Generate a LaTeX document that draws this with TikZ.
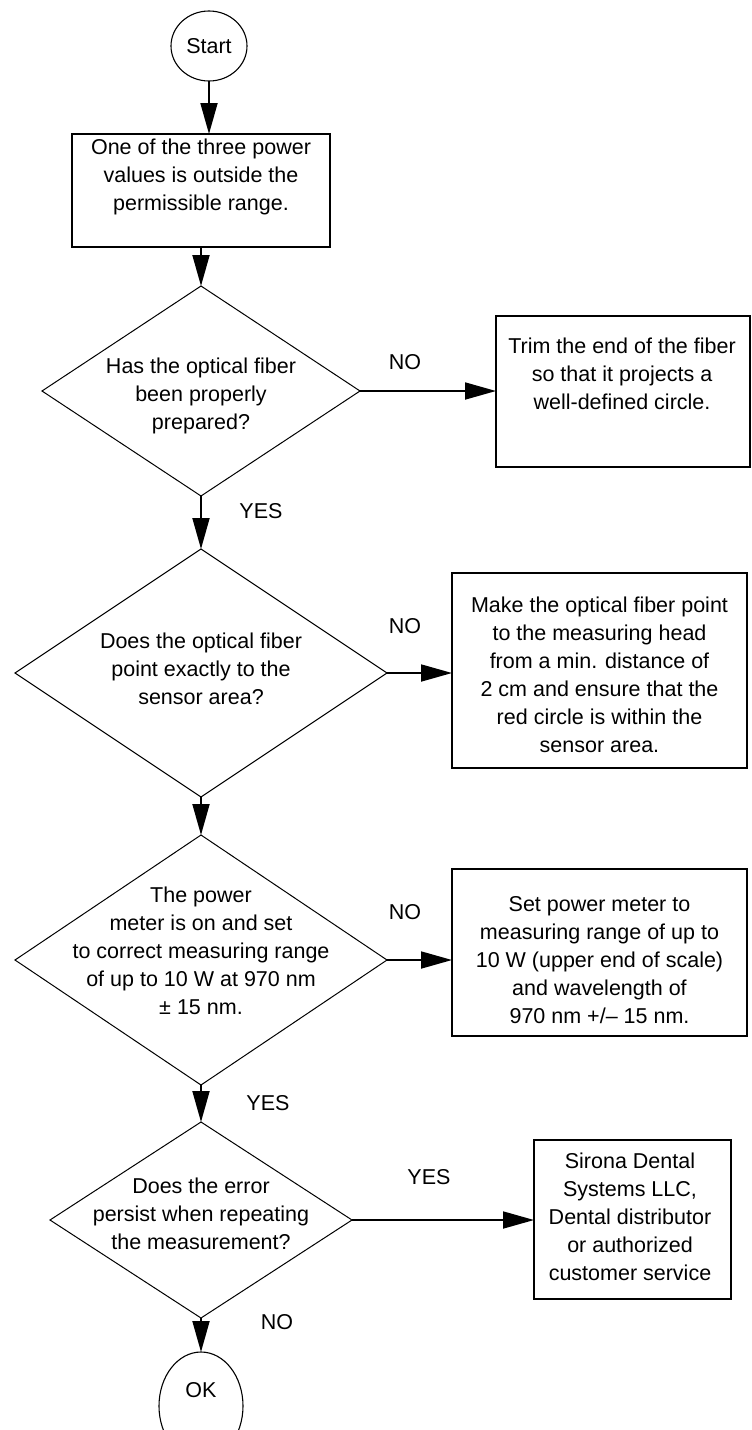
\documentclass[tikz,border=0pt]{standalone}
\usepackage{fontspec}
\setmainfont{Liberation Sans}
\usetikzlibrary{shapes.geometric,arrows.meta}
\begin{document}
\begin{tikzpicture}[x=1pt,y=-1pt,
  every node/.style={font=\fontsize{21.5}{28}\selectfont, inner sep=0pt, outer sep=0pt},
  boxnode/.style={draw, rectangle, line width=2pt},
  decision/.style={draw, diamond, line width=1pt},
  terminal/.style={draw, ellipse, line width=1.1pt},
  txt/.style={align=center},
  lbl/.style={},
  arr/.style={line width=1.8pt, -{Triangle[length=31pt,width=17pt]}}
]
\useasboundingbox (0,0) rectangle (752,1430);

% shapes
\node[terminal, minimum width=76pt, minimum height=70pt] (start) at (209,46) {Start};
\node[boxnode, minimum width=258pt, minimum height=113pt] (b1) at (201,190.5) {};
\node[txt] (b1t) at (201,177) {\strut One of the three power\\values is outside the\\permissible range.\strut};

\node[decision, minimum width=318pt, minimum height=210pt] (d1) at (201,391) {};
\node[txt] (d1t) at (201,396) {\strut Has the optical fiber\\been properly\\prepared?\strut};

\node[boxnode, minimum width=254pt, minimum height=151pt] (trim) at (623,391.5) {};
\node[txt] (trimt) at (622,376) {\strut Trim the end of the fiber\\so that it projects a\\well-defined circle.\strut};

\node[decision, minimum width=372pt, minimum height=248pt] (d2) at (201,673) {};
\node[txt] (d2t) at (201,671) {\strut Does the optical fiber\\point exactly to the\\sensor area?\strut};

\node[boxnode, minimum width=295pt, minimum height=195pt] (b2) at (599.5,670.5) {};
\node[txt] (b2t) at (599.5,676.5) {\strut Make the optical fiber point\\to the measuring head\\from a min. distance of\\2 cm and ensure that the\\red circle is within the\\sensor area.\strut};

\node[decision, minimum width=372pt, minimum height=250pt] (d3) at (201,960) {};
\node[txt] (d3t) at (201,953) {\strut The power\\meter is on and set\\to correct measuring range\\of up to 10 W at 970 nm\\± 15 nm.\strut};

\node[boxnode, minimum width=295pt, minimum height=167pt] (b3) at (599.5,952.5) {};
\node[txt] (b3t) at (599.5,962) {\strut Set power meter to\\measuring range of up to\\10 W (upper end of scale)\\and wavelength of\\970 nm +/– 15 nm.\strut};

\node[decision, minimum width=302pt, minimum height=196pt] (d4) at (201,1220) {};
\node[txt] (d4t) at (201,1215.5) {\strut Does the error\\persist when repeating\\the measurement?\strut};

\node[boxnode, minimum width=197pt, minimum height=159pt] (b4) at (632.5,1219.5) {};
\node[txt] (b4t) at (630,1218.5) {\strut Sirona Dental\\Systems LLC,\\Dental distributor\\or authorized\\customer service\strut};

\node[terminal, minimum width=84pt, minimum height=108pt] (ok) at (201,1406) {};
\node (okt) at (201,1390) {OK};

% labels
\node[lbl] (no1) at (405,362) {NO};
\node[lbl] (yes1) at (261,511) {YES};
\node[lbl] (no2) at (405,626) {NO};
\node[lbl] (no3) at (405,912) {NO};
\node[lbl] (yes3) at (268,1103) {YES};
\node[lbl] (yes4) at (429,1177) {YES};
\node[lbl] (no4) at (277,1322) {NO};

% connectors
\draw[arr] (start.south) -- (start.south |- b1.north);
\draw[arr] (b1.south) -- (d1.north);
\draw[arr] (d1.east) -- (d1.east -| trim.west);
\draw[arr] (d1.south) -- (d2.north);
\draw[arr] (d2.east) -- (d2.east -| b2.west);
\draw[arr] (d2.south) -- (d3.north);
\draw[arr] (d3.east) -- (d3.east -| b3.west);
\draw[arr] (d3.south) -- (d4.north);
\draw[arr] (d4.east) -- (d4.east -| b4.west);
\draw[arr] (d4.south) -- (ok.north);
\end{tikzpicture}
\end{document}
